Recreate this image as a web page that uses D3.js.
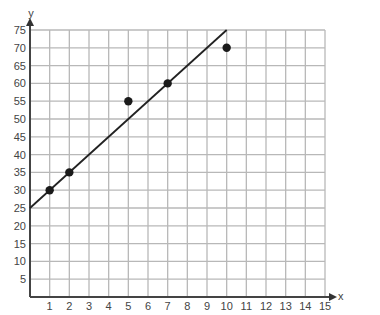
<!DOCTYPE html>
<html>
<head>
<meta charset="utf-8">
<script src="https://cdn.jsdelivr.net/npm/d3@7"></script>
<style>
  body { margin: 0; background: #fff; }
  text { font-family: "Liberation Sans", Arial, sans-serif; }
</style>
</head>
<body>
<script>
const xTicks = [1, 2, 3, 4, 5, 6, 7, 8, 9, 10, 11, 12, 13, 14, 15]
const yTicks = [5, 10, 15, 20, 25, 30, 35, 40, 45, 50, 55, 60, 65, 70, 75]
const pointsX = [1, 2, 5, 7, 10]
const pointsY = [30, 35, 55, 60, 70]
const lineX = [0, 10]
const lineY = [25, 75]

let width = 380,
    height = 315

let svg = d3.select('body').append('svg')
  .attr('width', width)
  .attr('height', height)

const x = d3.scaleLinear().domain([0, 15]).range([30, 325])
const y = d3.scaleLinear().domain([0, 75]).range([297, 30])

// grid
let grid = svg.append('g')
grid.selectAll('.vline').data(xTicks).enter().append('line')
  .attr('x1', d => x(d)).attr('x2', d => x(d))
  .attr('y1', y(0)).attr('y2', y(75))
  .style('stroke', '#b8b8b8').style('stroke-width', 1.3)
grid.selectAll('.hline').data(yTicks).enter().append('line')
  .attr('x1', x(0)).attr('x2', x(15))
  .attr('y1', d => y(d)).attr('y2', d => y(d))
  .style('stroke', '#b8b8b8').style('stroke-width', 1.3)

svg.append('defs').append('marker')
  .attr('id', 'arrow')
  .attr('viewBox', '0 0 10 10')
  .attr('refX', 0).attr('refY', 5)
  .attr('markerWidth', 4).attr('markerHeight', 4)
  .attr('orient', 'auto')
  .append('path').attr('d', 'M0,0L10,5L0,10z').style('fill', '#333')

// axes
svg.append('line')
  .attr('x1', x(0)).attr('x2', x(15) + 4)
  .attr('y1', y(0)).attr('y2', y(0))
  .style('stroke', '#444').style('stroke-width', 2)
  .attr('marker-end', 'url(#arrow)')
svg.append('line')
  .attr('x1', x(0)).attr('x2', x(0))
  .attr('y1', y(0)).attr('y2', y(75) - 4)
  .style('stroke', '#444').style('stroke-width', 2)
  .attr('marker-end', 'url(#arrow)')

svg.selectAll('.xlab').data(xTicks).enter().append('text')
  .attr('x', d => x(d)).attr('y', y(0) + 13)
  .attr('text-anchor', 'middle')
  .style('font-size', '11px').style('fill', '#444')
  .text(d => d)
svg.selectAll('.ylab').data(yTicks).enter().append('text')
  .attr('x', x(0) - 4).attr('y', d => y(d) + 4)
  .attr('text-anchor', 'end')
  .style('font-size', '11px').style('fill', '#444')
  .text(d => d)

svg.append('text').attr('x', x(15) + 13).attr('y', y(0) + 3)
  .style('font-size', '11px').style('fill', '#444').text('x')
svg.append('text').attr('x', x(0) + 1).attr('y', 17)
  .attr('text-anchor', 'middle')
  .style('font-size', '11px').style('fill', '#444').text('y')

// fit line
svg.append('line')
  .attr('x1', x(lineX[0])).attr('y1', y(lineY[0]))
  .attr('x2', x(lineX[1])).attr('y2', y(lineY[1]))
  .style('stroke', '#222').style('stroke-width', 1.8)

svg.selectAll('.dot').data(pointsX).enter().append('circle')
  .attr('cx', d => x(d)).attr('cy', (d, i) => y(pointsY[i]))
  .attr('r', 4.2)
  .style('fill', '#1a1a1a')
</script>
</body>
</html>
